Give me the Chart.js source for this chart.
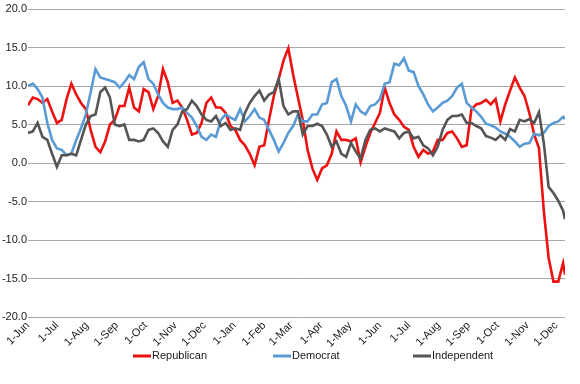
<!DOCTYPE html>
<html>
<head>
<meta charset="utf-8">
<script src="https://cdn.jsdelivr.net/npm/chart.js@4/dist/chart.umd.min.js"></script>
<style>
  html, body { margin: 0; padding: 0; background: #fff; }
  #wrap { width: 580px; height: 384px; }
</style>
</head>
<body>
<div id="wrap"><canvas id="chart" width="580" height="384"></canvas></div>
<script>
'use strict';

// ── Data (day offsets from 1-Jun) ─────────────────────────────
const days = [
    0,   5,  10,  15,  20,  25,  30,  35,  40,  45,  50,  55,  60,  65,  70,  75,  80,  85,  90,  95,
  100, 105, 110, 115, 120, 125, 130, 135, 140, 145, 150, 155, 160, 165, 170, 175, 180, 185, 190, 195,
  200, 205, 210, 215, 220, 225, 230, 235, 240, 245, 250, 255, 260, 265, 270, 275, 280, 285, 290, 295,
  300, 305, 310, 315, 320, 325, 330, 335, 340, 345, 350, 355, 360, 365, 370, 375, 380, 385, 390, 395,
  400, 405, 410, 415, 420, 425, 430, 435, 440, 445, 450, 455, 460, 465, 470, 475, 480, 485, 490, 495,
  500, 505, 510, 515, 520, 525, 530, 535, 540, 545, 550, 555, 557
];

const republican = [
   7.5,  8.5,  8.3,  7.8,  8.3,  6.7,  5.2,  5.6,  8.3, 10.3,  8.9,  7.8,  7.0,  4.3,  2.1,  1.4,  2.8,  5.0,  5.6,  7.4,
   7.4,  9.8,  7.2,  6.7,  9.6,  9.2,  7.0,  8.7, 12.2, 10.5,  7.8,  8.1,  7.2,  5.6,  3.7,  3.9,  5.2,  7.8,  8.5,  7.2,
   7.2,  6.5,  4.8,  4.3,  3.0,  2.3,  1.2, -0.3,  2.1,  2.3,  5.6,  8.7, 10.9, 13.3, 14.9, 11.5,  8.5,  5.6,  1.7, -0.7,
  -2.2, -0.7, -0.3,  1.2,  4.1,  3.0,  3.0,  2.8,  3.2,  0.1,  2.1,  3.9,  5.2,  6.5,  9.8,  7.8,  6.3,  5.6,  4.7,  4.3,
   2.1,  0.8,  1.7,  1.2,  1.5,  3.0,  3.0,  3.9,  4.1,  3.2,  2.1,  2.3,  7.0,  7.6,  7.8,  8.2,  7.6,  8.3,  5.4,  7.6,
   9.4, 11.1,  9.8,  8.7,  6.5,  3.7,  1.9, -6.2,-12.3,-15.4,-15.4,-13.0,-14.5
];

const democrat = [
  10.0, 10.3,  9.6,  8.5,  5.2,  3.0,  1.9,  1.7,  1.0,  1.2,  3.0,  4.5,  6.3,  9.2, 12.2, 11.1, 10.9, 10.7, 10.5,  9.8,
  10.5, 11.4, 10.9, 12.5, 13.1, 10.9, 10.3,  8.9,  7.8,  7.2,  7.0,  7.0,  7.2,  6.5,  5.9,  4.8,  3.4,  3.0,  3.7,  3.4,
   5.6,  6.3,  5.9,  5.6,  7.0,  5.4,  6.1,  7.0,  5.9,  5.6,  4.3,  3.0,  1.5,  2.6,  3.9,  4.8,  6.3,  5.4,  5.4,  6.3,
   6.3,  7.6,  7.8, 10.5, 10.9,  8.7,  7.4,  5.4,  7.6,  6.7,  6.3,  7.4,  7.6,  8.3, 10.3, 10.5, 12.9, 12.7, 13.6, 12.0,
  11.8, 10.0,  8.9,  7.6,  6.7,  7.2,  7.8,  8.1,  8.7,  9.8, 10.3,  7.8,  7.2,  6.7,  6.0,  5.1,  4.9,  4.6,  4.1,  3.8,
   3.4,  2.8,  2.1,  2.5,  2.6,  3.8,  3.6,  3.9,  4.8,  5.2,  5.4,  6.0,  5.7
];

const independent = [
   3.9,  4.1,  5.2,  3.4,  3.0,  1.2, -0.5,  1.0,  1.0,  1.2,  1.0,  3.0,  5.0,  6.1,  6.3,  9.2,  9.8,  8.5,  5.0,  4.8,
   5.0,  3.0,  3.0,  2.8,  3.0,  4.3,  4.5,  3.9,  2.8,  2.1,  4.3,  5.0,  6.7,  7.0,  8.1,  7.4,  6.3,  5.6,  5.4,  6.1,
   4.8,  5.2,  4.3,  4.5,  4.3,  6.5,  7.8,  8.7,  9.4,  8.1,  8.9,  9.2, 10.9,  7.4,  6.3,  6.7,  6.7,  3.7,  4.8,  4.8,
   5.1,  4.8,  3.7,  2.1,  2.8,  1.2,  0.8,  2.6,  1.5,  0.6,  3.0,  4.3,  4.5,  4.1,  4.5,  4.3,  4.1,  3.2,  3.9,  4.1,
   3.2,  3.4,  2.3,  1.9,  1.0,  2.1,  4.3,  5.6,  6.1,  6.1,  6.3,  5.2,  5.2,  4.8,  4.5,  3.5,  3.3,  3.0,  3.6,  3.0,
   4.4,  4.1,  5.6,  5.4,  5.7,  5.2,  6.6,  2.6, -3.1, -3.9, -4.9, -6.2, -7.3
];

// Month ticks (day offset) and their labels
const monthTicks  = [0, 30, 61, 92, 122, 153, 183, 214, 245, 273, 304, 334, 365, 395, 426, 457, 487, 518, 548];
const monthLabels = ['1-Jun', '1-Jul', '1-Aug', '1-Sep', '1-Oct', '1-Nov', '1-Dec', '1-Jan', '1-Feb', '1-Mar',
                     '1-Apr', '1-May', '1-Jun', '1-Jul', '1-Aug', '1-Sep', '1-Oct', '1-Nov', '1-Dec'];

const yTicks = [-20, -15, -10, -5, 0, 5, 10, 15, 20];

// ── Styling ───────────────────────────────────────────────────
const FONT = '"Liberation Sans", Arial, sans-serif';
const COLORS = { rep: '#ee1111', dem: '#5b9bd5', ind: '#555555' };

function toPoints(vals) {
  return days.map((d, i) => ({ x: d, y: vals[i] }));
}

function lineSet(label, vals, color, order) {
  return {
    label,
    data: toPoints(vals),
    borderColor: color,
    backgroundColor: color,
    borderWidth: 2.6,
    pointRadius: 0,
    tension: 0,
    order,
  };
}

// ── Bottom legend (Excel-like spacing) ────────────────────────
const bottomLegend = {
  id: 'bottomLegend',
  afterDraw(chart) {
    const ctx = chart.ctx;
    ctx.save();
    ctx.font = '11px ' + FONT;
    ctx.textBaseline = 'middle';
    ctx.textAlign = 'left';
    chart.data.datasets.forEach((ds, i) => {
      const x = 133 + i * 140;
      const y = 356;
      ctx.strokeStyle = ds.borderColor;
      ctx.lineWidth = 3;
      ctx.beginPath();
      ctx.moveTo(x, y);
      ctx.lineTo(x + 18, y);
      ctx.stroke();
      ctx.fillStyle = '#1a1a1a';
      ctx.fillText(ds.label, x + 19, y);
    });
    ctx.restore();
  },
};

// ── Chart ─────────────────────────────────────────────────────
const ctx = document.getElementById('chart').getContext('2d');

new Chart(ctx, {
  type: 'line',
  data: {
    datasets: [
      lineSet('Republican',  republican,  COLORS.rep, 2),
      lineSet('Democrat',    democrat,    COLORS.dem, 1),
      lineSet('Independent', independent, COLORS.ind, 0),
    ],
  },
  options: {
    responsive: false,
    animation: false,
    layout: { padding: { top: 9, right: 15, bottom: 28, left: 0 } },
    plugins: {
      legend: { display: false },
      tooltip: { enabled: false },
    },
    scales: {
      x: {
        type: 'linear',
        min: 0,
        max: 557,
        grid: { display: false, drawTicks: false },
        border: { display: false },
        afterBuildTicks: s => { s.ticks = monthTicks.map(v => ({ value: v })); },
        afterFit: s => { s.height = 39; },
        ticks: {
          autoSkip: false,
          minRotation: 45,
          maxRotation: 45,
          padding: 2,
          color: '#1a1a1a',
          font: { family: FONT, size: 11 },
          callback: (v, i) => monthLabels[i],
        },
      },
      y: {
        min: -20,
        max: 20,
        grid: { color: '#a8a8a8', lineWidth: 1, drawTicks: false },
        border: { display: false },
        afterBuildTicks: s => { s.ticks = yTicks.map(v => ({ value: v })); },
        afterFit: s => { s.width = 28; },
        ticks: {
          padding: 1,
          color: '#1a1a1a',
          font: { family: FONT, size: 11 },
          callback: v => v.toFixed(1),
        },
      },
    },
  },
  plugins: [bottomLegend],
});
</script>
</body>
</html>
